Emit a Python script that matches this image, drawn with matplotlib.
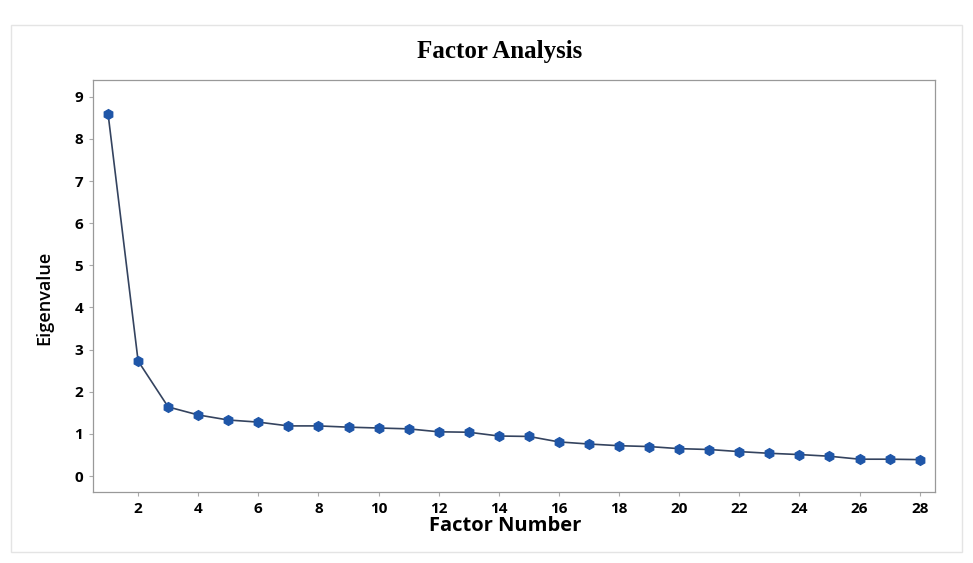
import matplotlib
matplotlib.use("Agg")
import matplotlib.pyplot as plt
from matplotlib.patches import Rectangle

# スクリープロットのデータ
factor_number = list(range(1, 29))
eigenvalue = [8.60, 2.73, 1.64, 1.45, 1.33, 1.28, 1.19, 1.19, 1.16, 1.14,
              1.12, 1.05, 1.04, 0.95, 0.94, 0.81, 0.76, 0.72, 0.70, 0.65,
              0.63, 0.58, 0.54, 0.51, 0.47, 0.40, 0.40, 0.39]
x_ticks = list(range(2, 29, 2))
y_ticks = list(range(0, 10))

fig = plt.figure(figsize=(9.73, 5.63), dpi=100)
fig.patch.set_facecolor("white")

# 外枠（薄いグレー）
fig.patches.append(Rectangle((0.011, 0.02), 0.978, 0.935, transform=fig.transFigure,
                             fill=False, edgecolor="#e4e4e4", linewidth=1.0))

ax = fig.add_axes([0.0956, 0.126, 0.865, 0.732])
ax.plot(factor_number, eigenvalue, color="#34435f", linewidth=1.2,
        marker="h", markersize=7, markerfacecolor="#1f56a8",
        markeredgecolor="#1f56a8")

ax.set_xlim(0.5, 28.5)
ax.set_ylim(-0.38, 9.4)
ax.set_xticks(x_ticks)
ax.set_yticks(y_ticks)

tick_font = {"family": "Open Sans", "weight": "bold", "size": 11}
ax.set_xticklabels([str(t) for t in x_ticks], **tick_font)
ax.set_yticklabels([str(t) for t in y_ticks], **tick_font)
ax.tick_params(axis="both", length=3, color="#aaaaaa", pad=4)

for spine in ax.spines.values():
    spine.set_color("#999999")
    spine.set_linewidth(0.9)

ax.set_xlabel("Factor Number", family="Open Sans", weight="bold",
              fontsize=14.5)
ax.xaxis.set_label_coords(0.49, -0.058)
ax.set_ylabel("Eigenvalue", family="Open Sans", weight="semibold",
              fontsize=13)
ax.yaxis.set_label_coords(-0.047, 0.47)

fig.text(0.513, 0.908, "Factor Analysis", family="Liberation Serif",
         weight="bold", fontsize=18, ha="center", va="center")

fig.savefig("out.png", dpi=100)
